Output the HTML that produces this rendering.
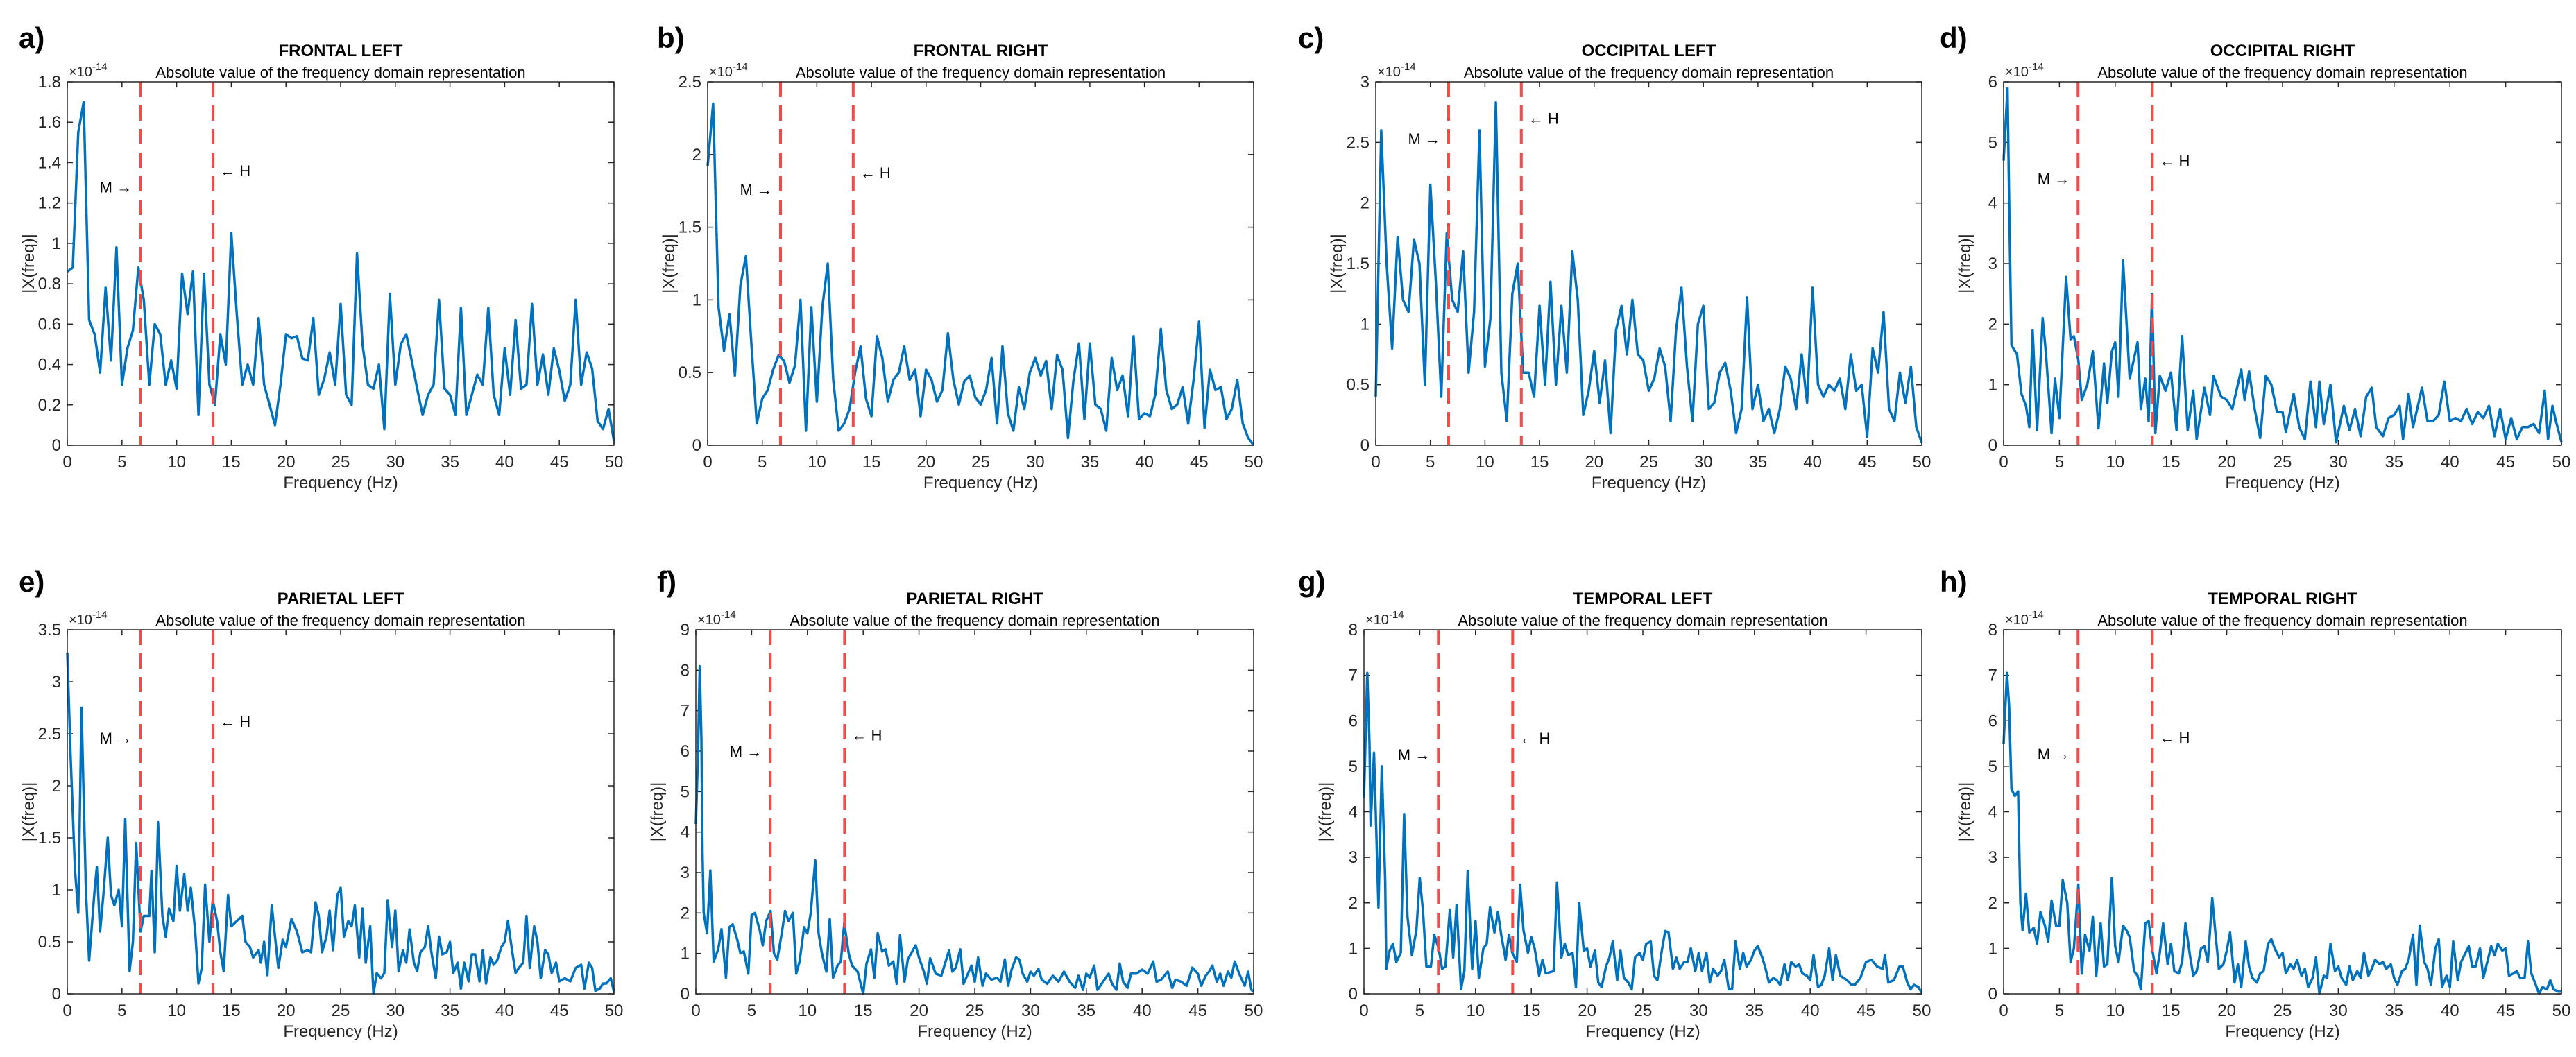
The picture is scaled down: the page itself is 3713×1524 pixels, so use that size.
<!DOCTYPE html>
<html><head><meta charset="utf-8"><style>
html,body{margin:0;padding:0;background:#fff}
svg{display:block;font-family:"Liberation Sans",Arial,sans-serif}
</style></head><body>
<svg id="fig" width="3713" height="1524" viewBox="0 0 3713 1524" xmlns="http://www.w3.org/2000/svg"></svg>
<script>
const aVal=[0.86,0.88,1.55,1.70,0.62,0.55,0.36,0.78,0.42,0.98,0.30,0.48,0.57,0.88,0.72,0.30,0.60,0.55,0.30,0.42,0.28,0.85,0.65,0.86,0.15,0.85,0.30,0.20,0.55,0.40,1.05,0.65,0.30,0.40,0.30,0.63,0.30,0.20,0.10,0.30,0.55,0.53,0.54,0.43,0.42,0.63,0.25,0.33,0.46,0.30,0.70,0.25,0.20,0.95,0.50,0.30,0.28,0.40,0.08,0.75,0.30,0.50,0.55,0.42,0.28,0.15,0.25,0.30,0.72,0.28,0.25,0.15,0.68,0.15,0.25,0.35,0.30,0.68,0.25,0.15,0.48,0.25,0.62,0.28,0.30,0.70,0.30,0.45,0.25,0.48,0.37,0.22,0.30,0.72,0.30,0.46,0.38,0.12,0.08,0.18,0.02];
const bVal=[1.92,2.35,0.95,0.65,0.90,0.48,1.10,1.30,0.70,0.15,0.32,0.38,0.52,0.62,0.58,0.43,0.55,1.00,0.10,0.95,0.30,0.95,1.25,0.45,0.10,0.15,0.25,0.50,0.68,0.32,0.20,0.75,0.60,0.30,0.45,0.50,0.68,0.45,0.52,0.20,0.52,0.45,0.30,0.38,0.77,0.45,0.28,0.44,0.48,0.33,0.28,0.38,0.60,0.15,0.68,0.22,0.10,0.40,0.25,0.50,0.60,0.48,0.58,0.25,0.62,0.52,0.05,0.45,0.70,0.18,0.70,0.28,0.25,0.10,0.60,0.38,0.48,0.20,0.75,0.18,0.22,0.20,0.35,0.80,0.38,0.25,0.28,0.40,0.15,0.45,0.85,0.12,0.52,0.38,0.40,0.18,0.25,0.45,0.15,0.05,0.0];
const cVal=[0.4,2.6,1.5,0.8,1.72,1.2,1.1,1.7,1.5,0.5,2.15,1.35,0.4,1.75,1.2,1.1,1.6,0.6,1.1,2.6,0.65,1.05,2.83,0.6,0.2,1.25,1.5,0.6,0.6,0.4,1.15,0.5,1.35,0.5,1.15,0.6,1.6,1.2,0.25,0.45,0.78,0.35,0.7,0.1,0.95,1.15,0.75,1.2,0.75,0.7,0.45,0.55,0.8,0.65,0.2,0.95,1.3,0.65,0.2,1.0,1.15,0.3,0.35,0.6,0.68,0.45,0.1,0.3,1.22,0.3,0.5,0.2,0.3,0.1,0.3,0.65,0.55,0.3,0.75,0.35,1.3,0.5,0.4,0.5,0.45,0.55,0.3,0.75,0.45,0.5,0.07,0.8,0.6,1.1,0.3,0.2,0.6,0.35,0.65,0.15,0.02];
const dFreq=[0,0.35,0.5,0.7,1.2,1.6,2.0,2.3,2.6,3.0,3.5,3.8,4.3,4.6,5.0,5.6,6.0,6.3,6.7,7.0,7.5,8.0,8.5,9.0,9.3,9.7,10.0,10.3,10.7,11.3,12.0,12.3,12.7,13.0,13.3,13.6,14.0,14.5,15.0,15.5,16.0,16.5,17.0,17.3,18.0,18.5,18.8,19.5,20.0,20.5,21.3,21.6,22.0,22.5,23.0,23.5,24.0,24.5,25.0,25.3,26.0,26.5,27.0,27.5,28.0,28.3,28.7,29.3,29.8,30.5,31.0,31.5,32.0,32.5,33.0,33.4,34.0,34.5,35.0,35.5,35.8,36.3,36.7,37.5,38.0,38.5,39.0,39.5,40.0,40.5,41.0,41.5,42.0,42.5,43.0,43.5,44.0,44.5,45.0,45.5,46.0,46.5,47.0,47.5,48.0,48.5,48.8,49.2,49.5,50.0];
const dVal=[4.7,5.9,4.0,1.65,1.5,0.85,0.65,0.3,1.9,0.25,2.1,1.5,0.2,1.1,0.45,2.78,1.75,1.8,1.4,0.75,1.0,1.55,0.28,1.35,0.7,1.55,1.7,0.8,3.05,1.1,1.7,0.6,1.1,0.4,2.5,0.2,1.15,0.9,1.2,0.25,1.8,0.25,0.9,0.1,0.95,0.5,1.15,0.8,0.75,0.6,1.25,0.75,1.22,0.6,0.12,1.15,1.0,0.55,0.55,0.22,0.85,0.3,0.1,1.05,0.3,1.05,0.35,1.0,0.05,0.65,0.25,0.6,0.15,0.8,0.95,0.3,0.15,0.45,0.5,0.65,0.1,0.85,0.3,0.95,0.4,0.4,0.5,1.05,0.4,0.45,0.4,0.6,0.35,0.55,0.45,0.65,0.15,0.6,0.1,0.45,0.1,0.3,0.3,0.35,0.2,0.9,0.1,0.65,0.4,0.05];
const eFreq=[0,0.3,0.7,1.0,1.3,1.7,2,2.5,2.7,3,3.3,3.7,4,4.3,4.7,5,5.3,5.7,6,6.3,6.7,7,7.5,7.7,8,8.3,8.7,9,9.3,9.7,10,10.3,10.7,11,11.3,11.7,12,12.3,12.6,13,13.3,13.7,14,14.3,14.7,15,15.5,16,16.3,16.7,17,17.5,17.7,18,18.3,18.7,19,19.3,19.7,20,20.5,21,21.5,22,22.3,22.7,23,23.3,23.7,24,24.3,24.7,25,25.3,25.7,26,26.3,26.7,27,27.3,27.7,28,28.3,28.7,29,29.3,29.7,30,30.3,30.7,31,31.3,31.7,32,32.3,32.7,33,33.3,33.7,34,34.3,34.7,35,35.3,35.7,36,36.3,36.7,37,37.3,37.7,38,38.3,38.7,39,39.3,39.7,40,40.3,40.7,41,41.3,41.7,42,42.3,42.7,43,43.3,43.7,44,44.3,44.7,45,45.5,46,46.5,47,47.3,47.7,48,48.3,48.7,49,49.3,49.7,50];
const eVal=[3.28,2.3,1.2,0.78,2.75,1.0,0.32,1.0,1.22,0.6,0.95,1.5,0.95,0.85,1.0,0.65,1.68,0.22,0.5,1.45,0.6,0.75,0.75,1.18,0.4,1.65,0.75,0.55,0.82,0.7,1.23,0.8,1.15,0.8,1.02,0.6,0.1,0.25,1.05,0.5,0.9,0.7,0.4,0.22,0.95,0.65,0.7,0.75,0.5,0.45,0.35,0.42,0.3,0.5,0.18,0.85,0.55,0.25,0.52,0.45,0.72,0.6,0.4,0.42,0.4,0.88,0.75,0.4,0.55,0.8,0.42,0.95,1.02,0.55,0.7,0.65,0.85,0.35,0.82,0.3,0.65,0.0,0.2,0.15,0.2,0.9,0.45,0.8,0.22,0.42,0.3,0.62,0.3,0.22,0.4,0.45,0.65,0.4,0.15,0.55,0.38,0.4,0.5,0.2,0.3,0.05,0.3,0.12,0.38,0.38,0.12,0.42,0.1,0.35,0.28,0.32,0.45,0.5,0.7,0.4,0.2,0.25,0.3,0.75,0.25,0.65,0.5,0.15,0.42,0.38,0.2,0.3,0.12,0.15,0.12,0.25,0.28,0.05,0.3,0.25,0.03,0.05,0.1,0.1,0.15,0.02];
const fFreq=[0,0.2,0.35,0.5,0.6,0.7,1.0,1.3,1.6,2.0,2.3,2.7,3,3.3,3.7,4,4.3,4.7,5,5.3,5.7,6,6.3,6.7,7,7.3,7.7,8,8.3,8.7,9,9.3,9.7,10,10.3,10.7,11,11.3,11.7,12,12.3,12.7,13,13.3,13.7,14,14.5,15,15.3,15.7,16,16.3,16.7,17,17.3,17.7,18,18.3,18.7,19,19.7,20,20.5,20.7,21,21.5,22,22.7,23,23.3,23.7,24,24.7,25,25.3,25.7,26,26.5,27,27.3,27.7,28,28.3,28.7,29,29.3,29.7,30,30.3,30.7,31,31.5,32,32.5,33,33.5,34,34.3,34.7,35,35.3,35.7,36,36.5,37,37.3,37.7,38,38.3,38.7,39,39.5,40,40.5,41,41.3,41.7,42.3,42.7,43,43.5,44,44.5,45,45.3,45.7,46,46.3,46.7,47,47.3,47.7,48,48.3,48.7,49.2,49.5,49.8,50];
const fVal=[4.2,6.0,8.1,6.3,3.5,2.0,1.5,3.05,0.8,1.1,1.6,0.4,1.65,1.72,1.35,1.0,1.05,0.5,1.95,2.0,1.6,1.2,1.8,2.05,1.0,0.85,1.5,2.05,1.8,2.0,0.5,0.8,1.65,1.5,2.0,3.3,1.5,1.0,0.55,1.85,0.4,0.7,0.8,1.75,1.0,0.7,0.55,0.0,0.75,1.1,0.4,1.5,1.05,1.1,0.7,0.8,0.25,1.45,0.3,0.85,1.2,0.9,0.5,0.25,0.88,0.5,0.45,1.08,0.55,0.65,1.1,0.25,0.7,0.3,0.9,0.2,0.5,0.35,0.4,0.3,0.85,0.2,0.6,0.9,0.85,0.5,0.3,0.55,0.45,0.62,0.35,0.25,0.45,0.3,0.55,0.3,0.15,0.45,0.1,0.5,0.4,0.7,0.1,0.3,0.5,0.25,0.1,0.75,0.3,0.15,0.5,0.5,0.6,0.5,0.8,0.3,0.35,0.55,0.15,0.35,0.3,0.2,0.65,0.5,0.2,0.45,0.55,0.7,0.3,0.5,0.2,0.55,0.4,0.8,0.5,0.2,0.55,0.1,0.05];
const gFreq=[0,0.3,0.5,0.6,0.9,1.3,1.6,1.9,2.0,2.3,2.6,2.9,3.3,3.6,3.9,4.3,4.7,5.0,5.3,5.6,6,6.3,6.7,7,7.3,7.7,8,8.3,8.7,9,9.3,9.7,10,10.3,10.7,11,11.3,11.7,12,12.3,12.7,13,13.3,13.7,14,14.3,14.7,15,15.3,15.7,16,16.3,17,17.3,17.7,18,18.3,18.7,19,19.3,19.7,20,20.3,20.7,21,21.3,21.7,22,22.3,22.7,23,23.3,23.7,24,24.3,24.7,25,25.3,25.7,26,26.3,26.7,27,27.3,27.7,28,28.3,28.7,29,29.3,29.7,30,30.3,30.7,31,31.3,31.7,32,32.3,32.7,33,33.3,33.7,34,34.3,34.7,35,35.3,35.7,36,36.3,36.7,37,37.3,37.7,38,38.3,38.7,39,39.3,39.7,40,40.3,40.7,41,41.3,41.7,42,42.3,42.7,43,43.3,43.7,44,44.5,45,45.5,46,46.5,46.7,47,47.5,48,48.3,48.7,49,49.3,49.7,50];
const gVal=[4.3,7.05,5.5,3.7,5.3,1.9,5.0,2.5,0.55,0.95,1.1,0.7,0.9,3.95,1.7,0.85,1.4,2.55,1.8,0.6,0.6,1.3,1.0,0.55,0.6,1.85,0.8,1.95,0.1,0.5,2.7,0.55,1.6,0.35,1.0,1.1,1.9,1.35,1.8,1.3,0.75,1.3,0.9,0.7,2.4,1.4,0.9,1.25,1.0,0.4,0.75,0.45,0.5,2.45,0.8,1.1,0.85,0.9,0.15,2.0,0.95,1.0,0.6,0.95,0.25,0.15,0.6,0.8,1.15,0.3,0.95,0.35,0.25,0.1,0.8,0.9,0.75,1.1,1.15,0.4,0.3,0.95,1.38,1.35,0.55,0.8,0.55,0.7,0.7,1.0,0.5,0.9,0.5,0.9,0.25,0.55,0.4,0.5,0.75,0.1,0.1,1.15,0.55,0.9,0.6,0.75,0.95,1.05,0.8,0.55,0.25,0.35,0.3,0.2,0.65,0.3,0.7,0.6,0.65,0.45,0.4,0.3,0.85,0.15,0.2,0.4,1.0,0.3,0.85,0.4,0.35,0.3,0.2,0.2,0.35,0.7,0.75,0.6,0.55,0.85,0.25,0.3,0.6,0.6,0.25,0.1,0.2,0.15,0.02];
const hFreq=[0,0.3,0.5,0.7,1.0,1.3,1.5,1.7,2.0,2.3,2.7,3,3.3,3.7,4,4.3,4.7,5,5.3,5.7,6,6.3,6.7,7,7.3,7.7,8,8.3,8.7,9,9.3,9.7,10,10.3,10.7,11,11.3,11.7,12,12.3,12.7,13,13.3,13.7,14,14.3,14.7,15,15.3,15.7,16,16.3,16.7,17,17.3,17.7,18,18.3,18.7,19,19.3,19.7,20,20.3,20.7,21,21.3,21.7,22,22.3,22.7,23,23.3,23.7,24,24.3,24.7,25,25.3,25.7,26,26.3,26.7,27,27.3,27.7,28,28.3,28.7,29,29.3,29.7,30,30.3,30.7,31,31.3,31.7,32,32.3,32.7,33,33.3,33.7,34,34.3,34.7,35,35.3,35.7,36,36.3,36.7,37,37.3,37.7,38,38.3,38.7,39,39.3,39.7,40,40.3,40.7,41,41.3,41.7,42,42.3,42.7,43,43.3,43.7,44,44.3,44.7,45,45.3,45.7,46,46.3,46.7,47,47.3,47.7,48,48.3,48.7,49,49.3,49.7,50];
const hVal=[5.5,7.05,6.3,4.5,4.35,4.45,2.0,1.4,2.2,1.35,1.45,1.1,1.8,1.5,1.15,2.05,1.5,1.5,2.5,2.0,0.7,1.0,2.4,0.45,1.3,0.95,1.7,0.4,1.55,0.6,0.65,2.55,1.05,0.7,1.5,1.4,1.25,0.5,0.4,0.1,1.55,1.6,1.0,0.45,0.9,1.55,0.65,1.1,0.5,0.45,0.7,1.55,0.85,0.4,0.5,1.0,1.05,0.7,2.1,1.3,0.55,0.65,0.95,1.35,0.25,0.65,0.15,1.15,0.6,0.35,0.25,0.45,0.5,1.1,1.2,1.0,0.8,0.9,0.45,0.65,0.55,0.75,0.4,0.55,0.15,0.35,0.8,0.0,0.4,0.35,1.1,0.5,0.6,0.35,0.2,0.6,0.3,0.5,0.35,0.9,0.4,0.55,0.75,0.65,0.7,0.55,0.65,0.35,0.2,0.5,0.55,0.75,1.3,0.2,1.5,0.7,0.55,0.2,1.0,1.2,0.15,0.4,0.15,1.15,0.3,0.7,0.85,1.05,0.6,0.6,1.0,0.35,0.65,1.05,0.85,1.1,0.95,1.0,0.4,0.45,0.5,0.35,0.35,1.15,0.45,0.2,0.0,0.15,0.1,0.3,0.1,0.05,0.05];
const titles=["FRONTAL LEFT","FRONTAL RIGHT","OCCIPITAL LEFT","OCCIPITAL RIGHT","PARIETAL LEFT","PARIETAL RIGHT","TEMPORAL LEFT","TEMPORAL RIGHT"];
const letters=["a)","b)","c)","d)","e)","f)","g)","h)"];
const yMaxes=[1.8,2.5,3,6,3.5,9,8,8];
const yStepsArr=[0.2,0.5,0.5,1,0.5,1,1,1];
const mLabelY=[1.28,1.76,2.53,4.4,2.46,6.0,5.26,5.27];
const hLabelY=[1.36,1.875,2.7,4.7,2.62,6.4,5.62,5.64];
const xTicks=[0,5,10,15,20,25,30,35,40,45,50];
const bandLines=[6.67,13.33];

const uni=v=>v.map((_,i)=>i*0.5);
const seriesF=[uni(aVal),uni(bVal),uni(cVal),dFreq,eFreq,fFreq,gFreq,hFreq];
const seriesV=[aVal,bVal,cVal,dVal,eVal,fVal,gVal,hVal];
// layout: [left, right, top, bottom, letterX, letterY]
const boxes=[[97,885,118,642,27,58],[1020,1807,118,642,947,58],[1983,2770,118,642,1871,58],[2888,3692,118,642,2796,58],
[97,885,908,1433,27,842],[1003,1807,908,1433,947,842],[1966,2770,908,1433,1871,842],[2888,3692,908,1433,2796,842]];
const NS="http://www.w3.org/2000/svg";
const svg=document.getElementById('fig');
function mk(tag,attrs,parent){const e=document.createElementNS(NS,tag);for(const k in attrs)e.setAttribute(k,attrs[k]);(parent||svg).appendChild(e);return e;}
function txt(s,attrs,parent){const e=mk('text',attrs,parent);e.textContent=s;return e;}
for(let p=0;p<8;p++){
  const [L,R,T,B,lx,ly]=boxes[p];
  const ymax=yMaxes[p];
  const X=f=>L+(R-L)*f/50;
  const Y=v=>B-(B-T)*v/ymax;
  const g=mk('g',{});
  
  
  const lt=txt(letters[p],{x:lx,y:ly,'font-size':42,'font-weight':'bold',fill:'#000','dominant-baseline':'middle'},g);
  
  const tt=txt(titles[p],{x:(L+R)/2,y:T-37,'font-size':24,'font-weight':'bold','text-anchor':'middle',fill:'#000'},g);
  
  const st=txt('Absolute value of the frequency domain representation',{x:(L+R)/2,y:T-6,'font-size':22,'text-anchor':'middle',fill:'#000'},g);
  
  const ex=mk('text',{x:L+2,y:T-8,'font-size':20,fill:'#262626'},g);
  
  ex.innerHTML='×10<tspan dy="-9" font-size="15">-14</tspan>';
  // ticks
  for(const t of xTicks){
    const x=X(t);
    mk('line',{x1:x,x2:x,y1:B,y2:B-8,stroke:'#262626','stroke-width':1.5},g);
    mk('line',{x1:x,x2:x,y1:T,y2:T+8,stroke:'#262626','stroke-width':1.5},g);
    const tl=txt(String(t),{x:x,y:B+32,'font-size':24,'text-anchor':'middle',fill:'#262626'},g);
    
  }
  const step=yStepsArr[p];
  const n=Math.round(ymax/step);
  for(let i=0;i<=n;i++){
    const v=+(i*step).toFixed(2);
    const y=Y(v);
    mk('line',{x1:L,x2:L+8,y1:y,y2:y,stroke:'#262626','stroke-width':1.5},g);
    mk('line',{x1:R,x2:R-8,y1:y,y2:y,stroke:'#262626','stroke-width':1.5},g);
    const yl=txt(String(v),{x:L-9,y:y+8,'font-size':24,'text-anchor':'end',fill:'#262626'},g);
    
  }
  const xl=txt('Frequency (Hz)',{x:(L+R)/2,y:B+62,'font-size':24,'text-anchor':'middle',fill:'#262626'},g);
  
  const yt=txt('|X(freq)|',{x:0,y:0,'font-size':24,'text-anchor':'middle',fill:'#262626',transform:`translate(${L-48},${(T+B)/2}) rotate(-90)`},g);
  
  // series
  const fs=seriesF[p],vs=seriesV[p];
  let d='';
  for(let i=0;i<vs.length;i++){d+=(i?'L':'M')+X(fs[i]).toFixed(1)+','+Y(vs[i]).toFixed(1);}
  const ln=mk('path',{d:d,fill:'none',stroke:'#0072BD','stroke-width':3.5,'stroke-linejoin':'round'},g);
  
  for(const b of bandLines){
    const dl=mk('line',{x1:X(b),x2:X(b),y1:T,y2:B,stroke:'#F24B4B','stroke-width':4,'stroke-dasharray':'22 12'},g);
    
  }
  const mt=txt('M →',{x:X(bandLines[0])-12,y:Y(mLabelY[p])+8,'font-size':22,'text-anchor':'end',fill:'#000'},g);
  
  const ht=txt('← H',{x:X(bandLines[1])+10,y:Y(hLabelY[p])+8,'font-size':22,fill:'#000'},g);
  
  const bx=mk('rect',{x:L,y:T,width:R-L,height:B-T,fill:'none',stroke:'#262626','stroke-width':1.5},g);
  
}
</script>
</body></html>
